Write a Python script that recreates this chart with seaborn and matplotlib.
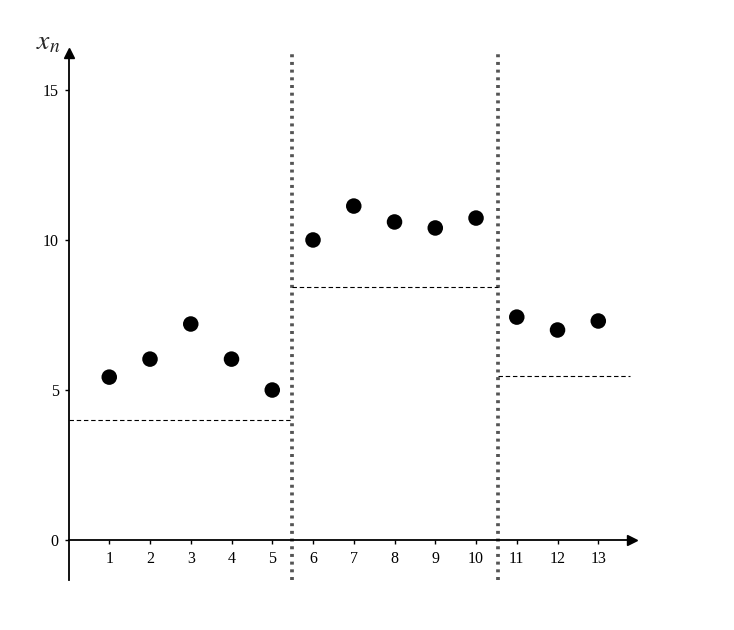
import matplotlib
matplotlib.use("Agg")
import matplotlib.pyplot as plt
import seaborn as sns
import pandas as pd

# Data
n_values = [1, 2, 3, 4, 5, 6, 7, 8, 9, 10, 11, 12, 13]
x_values = [5.43, 6.03, 7.2, 6.03, 5.0, 10.0, 11.13, 10.6, 10.4, 10.73, 7.43, 7.0, 7.3]
boundaries = [5.48, 10.54]
segment_starts = [0.0, 5.48, 10.54]
segment_ends = [5.48, 10.54, 13.78]
segment_levels = [4.0, 8.43, 5.47]
y_ticks = [0, 5, 10, 15]
x_ticks = n_values

df = pd.DataFrame({"n": n_values, "x": x_values})

sns.set_theme(style="white")
plt.rcParams["font.family"] = ["Liberation Serif", "DejaVu Serif"]
plt.rcParams["mathtext.fontset"] = "stix"

fig = plt.figure(figsize=(7.34, 6.30), dpi=100)
W, H = 734, 630
x0_px, x1_px = 68.5, 631.7
y_bot_px, y_top_px = 580, 53
ax = fig.add_axes([x0_px / W, 1 - y_bot_px / H, (x1_px - x0_px) / W, (y_bot_px - y_top_px) / H])

xmax = 13.82
ymin, ymax = -1.33, 16.23
ax.set_xlim(0, xmax)
ax.set_ylim(ymin, ymax)

# dotted boundaries
ax.vlines(boundaries, ymin, ymax - 0.03, colors="#555555", linewidth=2.7,
          linestyles=(0, (0.8, 1.25)), zorder=2)
# dashed level segments
ax.hlines(segment_levels, segment_starts, segment_ends, colors="black",
          linewidth=0.8, linestyles=(0, (4, 2.5)), zorder=2)

sns.scatterplot(data=df, x="n", y="x", ax=ax, s=125, color="black",
                edgecolor="none", linewidth=0, zorder=3, legend=False)

# spines as axes with arrows
for s in ["top", "right"]:
    ax.spines[s].set_visible(False)
ax.spines["bottom"].set_position(("data", 0))
ax.spines["left"].set_position(("data", 0))
for s in ["bottom", "left"]:
    ax.spines[s].set_color("black")
    ax.spines[s].set_linewidth(1.3)
ax.plot(1, 0, ">", color="black", markersize=7, transform=ax.get_yaxis_transform(),
        clip_on=False, zorder=5)
ax.plot(0, 1, "^", color="black", markersize=7, transform=ax.get_xaxis_transform(),
        clip_on=False, zorder=5)

ax.set_xticks(x_ticks)
ax.set_xticklabels([str(v) for v in x_ticks])
ax.set_yticks(y_ticks)
ax.set_yticklabels([str(v) for v in y_ticks])
ax.tick_params(axis="both", which="major", direction="out", length=3, width=1,
               color="black", labelsize=11.5, labelcolor="black", bottom=True, left=True)
ax.tick_params(axis="x", pad=5)
ax.tick_params(axis="y", pad=4)
ax.set_xlabel("")
ax.set_ylabel("")
ax.grid(False)

fig.text(48 / W, 1 - 43 / H, "$x_n$", fontsize=20, ha="center", va="center")

fig.savefig("out.png", dpi=100)
